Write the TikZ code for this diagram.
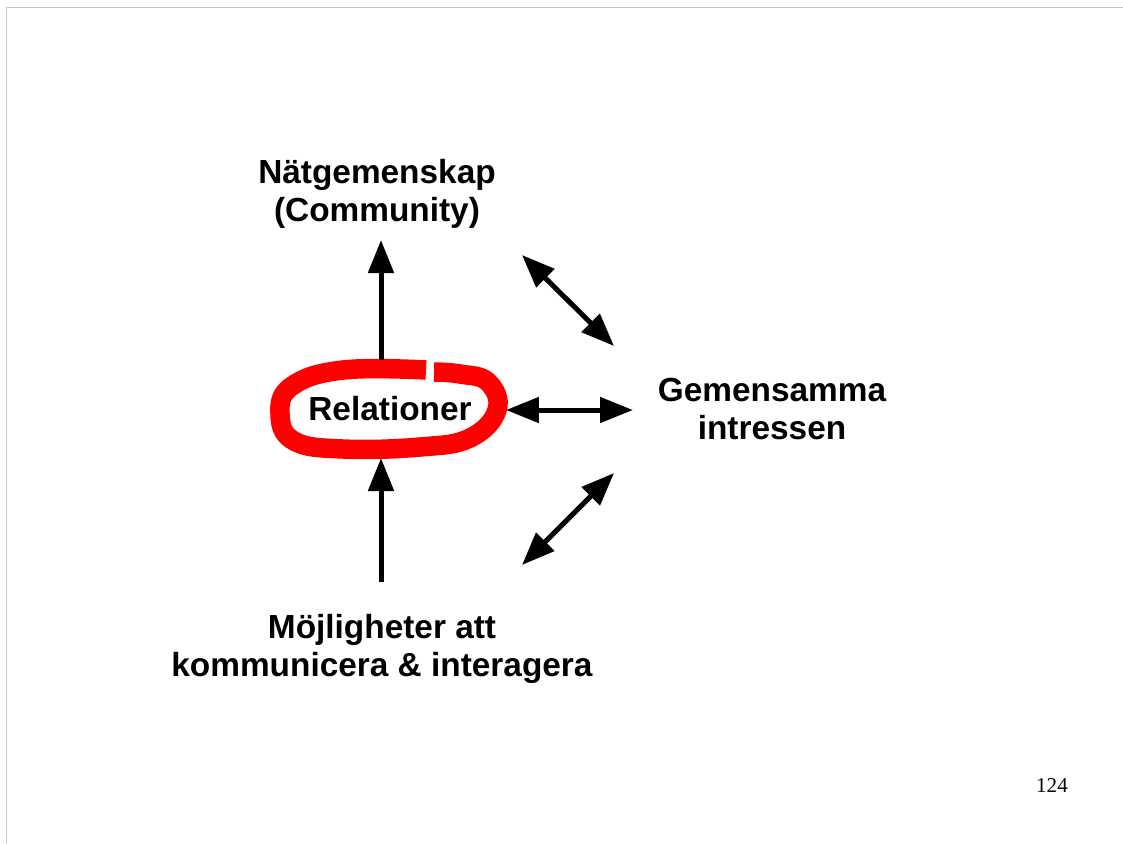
\documentclass[tikz,border=0pt]{standalone}
\usepackage{fontspec}
\setmainfont{Liberation Sans}
\newfontfamily\pagefont{Liberation Serif}
\usetikzlibrary{arrows.meta}

\tikzset{
  label/.style={font=\bfseries\fontsize{19}{21.5}\selectfont, align=center, inner sep=0pt},
  arr/.style={-{Triangle[length=0.66cm,width=0.5cm]}, line width=0.1cm},
  biarr/.style={{Triangle[length=0.66cm,width=0.5cm]}-{Triangle[length=0.66cm,width=0.5cm]}, line width=0.1cm},
}

\begin{document}
\begin{tikzpicture}[x=0.02cm, y=-0.02cm, line join=round]
  \useasboundingbox (0,0) rectangle (1123,843);

  % --- slide frame ---
  \draw[gray!45, line width=0.03cm] (1123,7.5) -- (6.5,7.5) -- (6.5,843);

  % --- labels ---
  \node[label] (community) at (377,194) {Nätgemenskap\\(Community)};
  \node[label] (relations) at (390,409) {Relationer};
  \node[label] (interests) at (772,409) {Gemensamma\\intressen};
  \node[label] (possible) at (382,649) {Möjligheter att\\kommunicera \& interagera};
  \node[font=\pagefont\fontsize{12}{14}\selectfont, inner sep=0pt] (pagenum) at (1052,786) {124};

  % --- arrow ends ---
  \coordinate (upA) at (381,360);
  \coordinate (upB) at (381,240);
  \coordinate (loA) at (381,582);
  \coordinate (loB) at (381,458);
  \coordinate (hA) at (506,410);
  \coordinate (hB) at (633,410);
  \coordinate (dA) at (522,255);
  \coordinate (dB) at (614,346);
  \coordinate (eA) at (614,473);
  \coordinate (eB) at (522,565);

  % --- red loop round Relationer ---
  \draw[red, line width=0.39cm, line cap=butt] plot[smooth, tension=0.7] coordinates
    {(426,370) (343,370) (292,386) (280,414) (294,441) (343,449) (420,447) (470,438) (497,410) (488,382) (460,374) (434,372)};

  % --- arrows ---
  \draw[arr] (upA) -- (upB);
  \draw[arr] (loA) -- (loB);
  \draw[biarr] (hA) -- (hB);
  \draw[biarr] (dA) -- (dB);
  \draw[biarr] (eA) -- (eB);
\end{tikzpicture}
\end{document}
